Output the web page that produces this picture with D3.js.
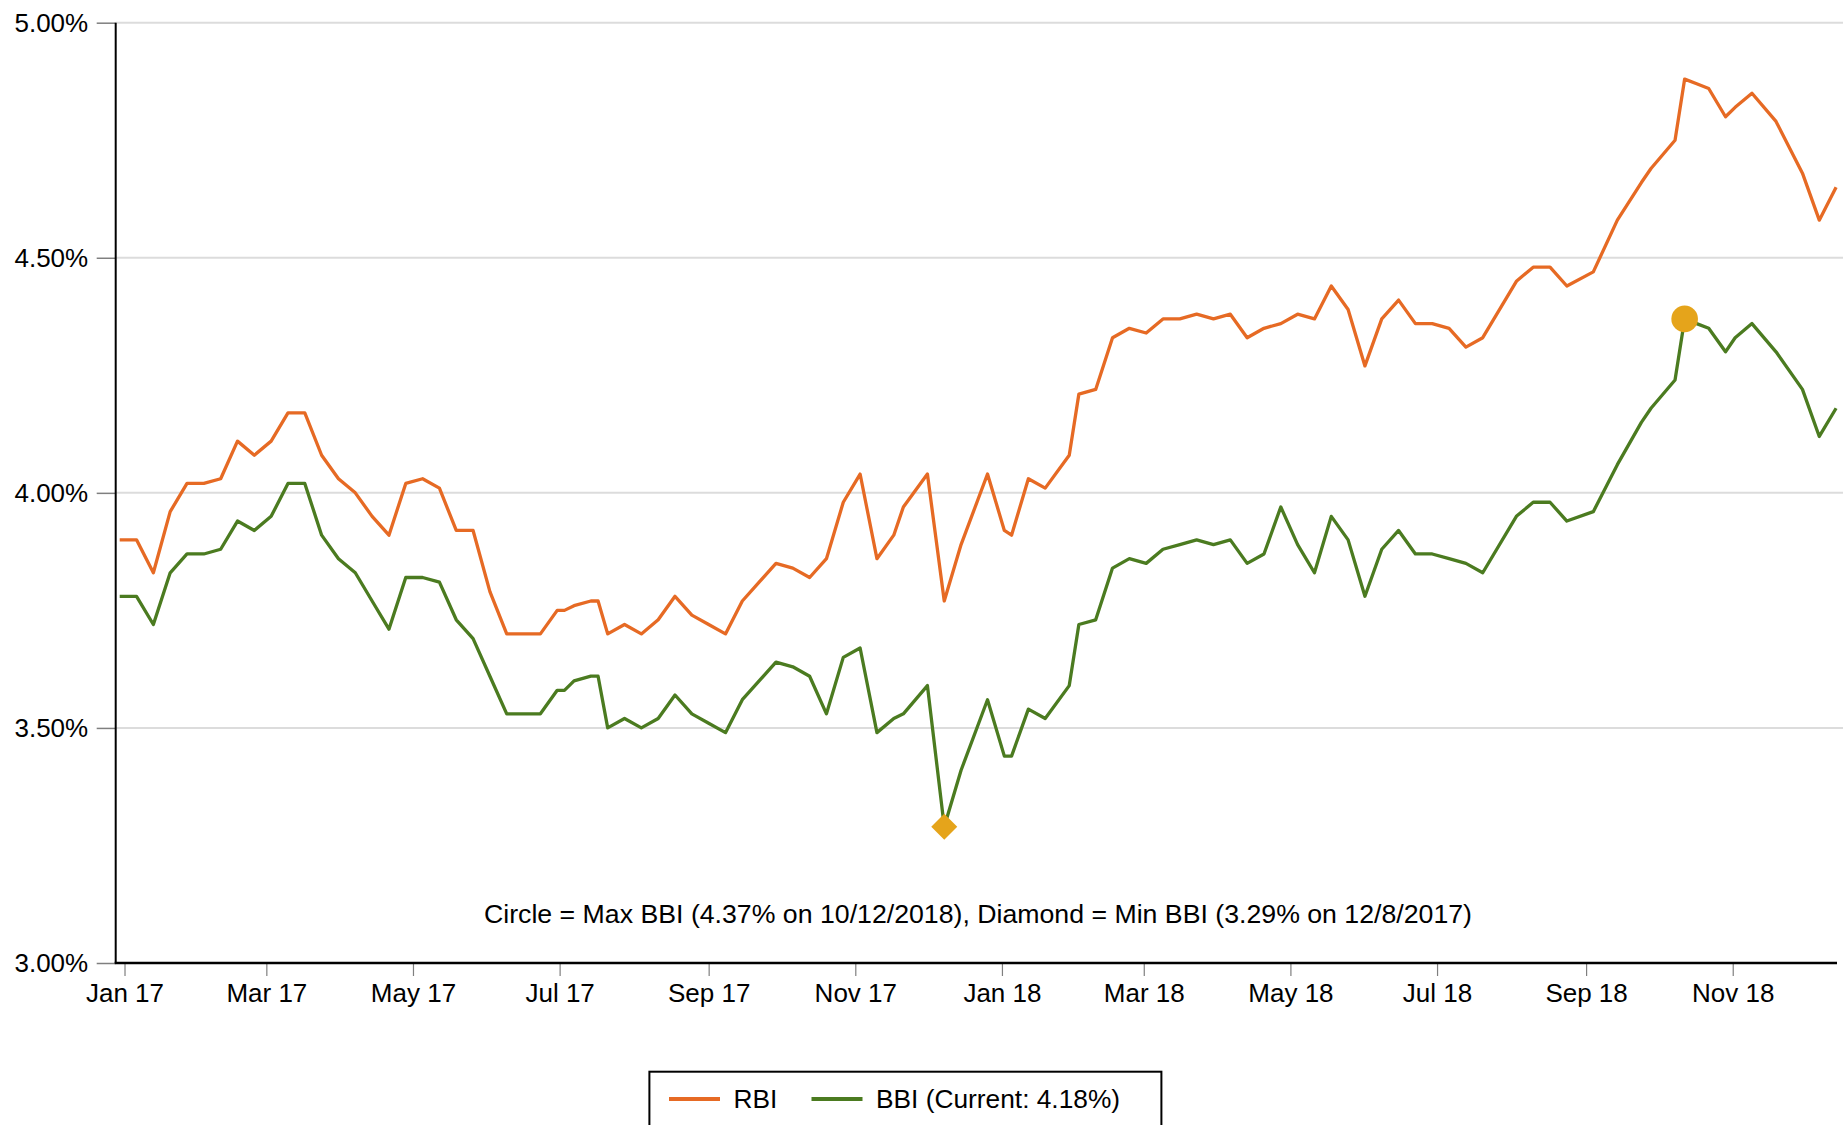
<!DOCTYPE html>
<html>
<head>
<meta charset="utf-8">
<script src="https://cdn.jsdelivr.net/npm/d3@7"></script>
<style>
    body { margin: 0; background: #fff; }
    text { font-family: "Liberation Sans", Arial, sans-serif; fill: #000; }
</style>
</head>
<body>
<script>
(function() {

    // observation dates (mostly weekly, a few shifted around holidays)
    var dates = [
        "2016-12-30","2017-01-06","2017-01-13","2017-01-20","2017-01-27","2017-02-03","2017-02-10","2017-02-17",
        "2017-02-24","2017-03-03","2017-03-10","2017-03-17","2017-03-24","2017-03-31","2017-04-07","2017-04-14",
        "2017-04-21","2017-04-28","2017-05-05","2017-05-12","2017-05-19","2017-05-26","2017-06-02","2017-06-09",
        "2017-06-16","2017-06-23","2017-06-30","2017-07-03","2017-07-07","2017-07-14","2017-07-17","2017-07-21",
        "2017-07-28","2017-08-04","2017-08-11","2017-08-18","2017-08-25","2017-09-01","2017-09-08","2017-09-15",
        "2017-09-22","2017-09-29","2017-10-06","2017-10-13","2017-10-20","2017-10-27","2017-11-03","2017-11-10",
        "2017-11-17","2017-11-21","2017-12-01","2017-12-08","2017-12-15","2017-12-26","2018-01-02","2018-01-05",
        "2018-01-12","2018-01-19","2018-01-29","2018-02-02","2018-02-09","2018-02-16","2018-02-23","2018-03-02",
        "2018-03-09","2018-03-16","2018-03-23","2018-03-30","2018-04-06","2018-04-13","2018-04-20","2018-04-27",
        "2018-05-04","2018-05-11","2018-05-18","2018-05-25","2018-06-01","2018-06-08","2018-06-15","2018-06-22",
        "2018-06-29","2018-07-06","2018-07-13","2018-07-20","2018-08-03","2018-08-10","2018-08-17","2018-08-24",
        "2018-09-04","2018-09-14","2018-09-24","2018-09-28","2018-10-08","2018-10-12","2018-10-17","2018-10-22",
        "2018-10-29","2018-11-02","2018-11-09","2018-11-19","2018-11-30","2018-12-07","2018-12-14"
    ];

    var rbi = [
        3.90,3.90,3.83,3.96,4.02,4.02,4.03,4.11,
        4.08,4.11,4.17,4.17,4.08,4.03,4.00,3.95,
        3.91,4.02,4.03,4.01,3.92,3.92,3.79,3.70,
        3.70,3.70,3.75,3.75,3.76,3.77,3.77,3.70,
        3.72,3.70,3.73,3.78,3.74,3.72,3.70,3.77,
        3.81,3.85,3.84,3.82,3.86,3.98,4.04,3.86,
        3.91,3.97,4.04,3.77,3.89,4.04,3.92,3.91,
        4.03,4.01,4.08,4.21,4.22,4.33,4.35,4.34,
        4.37,4.37,4.38,4.37,4.38,4.33,4.35,4.36,
        4.38,4.37,4.44,4.39,4.27,4.37,4.41,4.36,
        4.36,4.35,4.31,4.33,4.45,4.48,4.48,4.44,
        4.47,4.58,4.66,4.69,4.75,4.88,4.87,4.86,
        4.80,4.82,4.85,4.79,4.68,4.58,4.65
    ];

    var bbi = [
        3.78,3.78,3.72,3.83,3.87,3.87,3.88,3.94,
        3.92,3.95,4.02,4.02,3.91,3.86,3.83,3.77,
        3.71,3.82,3.82,3.81,3.73,3.69,3.61,3.53,
        3.53,3.53,3.58,3.58,3.60,3.61,3.61,3.50,
        3.52,3.50,3.52,3.57,3.53,3.51,3.49,3.56,
        3.60,3.64,3.63,3.61,3.53,3.65,3.67,3.49,
        3.52,3.53,3.59,3.29,3.41,3.56,3.44,3.44,
        3.54,3.52,3.59,3.72,3.73,3.84,3.86,3.85,
        3.88,3.89,3.90,3.89,3.90,3.85,3.87,3.97,
        3.89,3.83,3.95,3.90,3.78,3.88,3.92,3.87,
        3.87,3.86,3.85,3.83,3.95,3.98,3.98,3.94,
        3.96,4.06,4.15,4.18,4.24,4.37,4.36,4.35,
        4.30,4.33,4.36,4.30,4.22,4.12,4.18
    ];

    var yTicks = [3.00, 3.50, 4.00, 4.50, 5.00];
    var seriesNames = ["RBI", "BBI"];
    var seriesColors = ["#e66a24", "#4b7b20"];
    var markerColor = "#e5a41b";

    var W = 1848, H = 1125,
        left = 115.7, top = 22.7, bottom = 963, right = 1837, gridRight = 1843;

    var parse = d3.timeParse("%Y-%m-%d");
    var fmtDate = d3.timeFormat("%-m/%-d/%Y");

    var rows = dates.map(function(d, i) {
        return {date: parse(d), rbi: rbi[i], bbi: bbi[i]};
    });

    var x = d3.scaleTime()
        .domain(d3.extent(rows, function(d){return d.date}))
        .range([119.7, 1836.1]);

    var y = d3.scaleLinear()
        .domain([3, 5])
        .range([bottom, top]);

    var svg = d3.select("body").append("svg")
        .attr("width", W)
        .attr("height", H);

    // grid
    svg.append("g").selectAll("line")
        .data(yTicks.filter(function(t){return t > 3}))
        .enter().append("line")
            .attr("x1", left).attr("x2", gridRight)
            .attr("y1", function(d){return y(d)})
            .attr("y2", function(d){return y(d)})
            .style("stroke", "#dcdcdc")
            .style("stroke-width", 2);

    // y axis
    var yAxis = svg.append("g")
        .attr("transform", "translate(" + left + ",0)")
        .call(d3.axisLeft(y)
            .tickValues(yTicks)
            .tickFormat(function(d){return d.toFixed(2) + "%"})
            .tickSize(19)
            .tickPadding(8.5));
    yAxis.select(".domain").remove();
    yAxis.selectAll(".tick line").style("stroke", "#7f7f7f").style("stroke-width", 1.5);
    yAxis.selectAll(".tick text")
        .style("font-size", "26px")
        .style("font-family", "'Liberation Sans', Arial, sans-serif")
        .attr("dy", "0.32em");

    // x axis
    var xAxis = svg.append("g")
        .attr("transform", "translate(0," + bottom + ")")
        .call(d3.axisBottom(x)
            .ticks(d3.timeMonth.every(2))
            .tickFormat(d3.timeFormat("%b %y"))
            .tickSize(13)
            .tickPadding(8));
    xAxis.select(".domain").remove();
    xAxis.selectAll(".tick line").style("stroke", "#7f7f7f").style("stroke-width", 1.2);
    xAxis.selectAll(".tick text")
        .style("font-size", "26px")
        .style("font-family", "'Liberation Sans', Arial, sans-serif")
        .attr("dy", "0.71em");

    // axis lines
    svg.append("line")
        .attr("x1", left).attr("x2", left)
        .attr("y1", top).attr("y2", bottom)
        .style("stroke", "#000").style("stroke-width", 2);
    svg.append("line")
        .attr("x1", left - 1).attr("x2", right)
        .attr("y1", bottom).attr("y2", bottom)
        .style("stroke", "#000").style("stroke-width", 2.5);

    // series
    ["rbi", "bbi"].forEach(function(key, i) {
        var line = d3.line()
            .x(function(d){return x(d.date)})
            .y(function(d){return y(d[key])});
        svg.append("path")
            .datum(rows)
            .attr("d", line)
            .style("fill", "none")
            .style("stroke", seriesColors[i])
            .style("stroke-width", 3.3)
            .style("stroke-linejoin", "round");
    });

    // max / min markers on BBI
    var maxRow = rows[d3.maxIndex(rows, function(d){return d.bbi})];
    var minRow = rows[d3.minIndex(rows, function(d){return d.bbi})];

    svg.append("circle")
        .attr("cx", x(maxRow.date))
        .attr("cy", y(maxRow.bbi))
        .attr("r", 13.3)
        .style("fill", markerColor);

    svg.append("path")
        .attr("d", d3.symbol().type(d3.symbolSquare).size(338)())
        .attr("transform", "translate(" + x(minRow.date) + "," + y(minRow.bbi) + ") rotate(45)")
        .style("fill", markerColor);

    // note
    svg.append("text")
        .attr("x", 978)
        .attr("y", 923)
        .attr("text-anchor", "middle")
        .style("font-size", "26.7px")
        .text("Circle = Max BBI (" + maxRow.bbi.toFixed(2) + "% on " + fmtDate(maxRow.date) +
              "), Diamond = Min BBI (" + minRow.bbi.toFixed(2) + "% on " + fmtDate(minRow.date) + ")");

    // legend
    var lg = svg.append("g");
    lg.append("rect")
        .attr("x", 649.4).attr("y", 1071.7)
        .attr("width", 512).attr("height", 90)
        .style("fill", "#fff")
        .style("stroke", "#000")
        .style("stroke-width", 2);

    var legendItems = [
        {label: seriesNames[0], color: seriesColors[0], x: 669},
        {label: seriesNames[1] + " (Current: " + bbi[bbi.length - 1].toFixed(2) + "%)", color: seriesColors[1], x: 811.5}
    ];
    legendItems.forEach(function(it) {
        lg.append("line")
            .attr("x1", it.x).attr("x2", it.x + 51)
            .attr("y1", 1099).attr("y2", 1099)
            .style("stroke", it.color)
            .style("stroke-width", 4);
        lg.append("text")
            .attr("x", it.x + 64.5)
            .attr("y", 1099)
            .attr("dy", "0.35em")
            .style("font-size", "26.3px")
            .text(it.label);
    });

})();
</script>
</body>
</html>
